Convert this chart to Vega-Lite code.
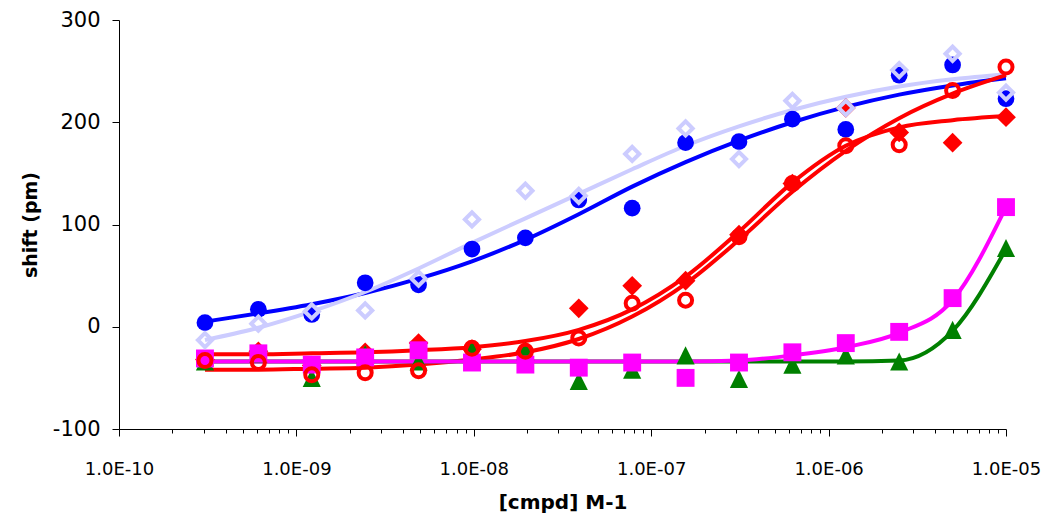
{
  "$schema": "https://vega.github.io/schema/vega-lite/v6.json",
  "width": 887,
  "height": 409,
  "autosize": {"type": "none"},
  "padding": {"left": 119, "top": 20, "right": 51, "bottom": 96},
  "background": "white",
  "config": {"view": {"stroke": null}, "font": "DejaVu Sans"},
  "data": {"values": [
    {"s":"s1","x":3.0517578125e-10,"obs":4,"fit":5},
    {"s":"s1","x":6.103515625e-10,"obs":17,"fit":13},
    {"s":"s1","x":1.220703125e-9,"obs":12,"fit":22},
    {"s":"s1","x":2.44140625e-9,"obs":43,"fit":33},
    {"s":"s1","x":4.8828125e-9,"obs":41,"fit":47},
    {"s":"s1","x":9.765625e-9,"obs":76,"fit":64},
    {"s":"s1","x":1.953125e-8,"obs":87,"fit":85},
    {"s":"s1","x":3.90625e-8,"obs":124,"fit":110},
    {"s":"s1","x":7.8125e-8,"obs":116,"fit":137},
    {"s":"s1","x":1.5625e-7,"obs":180,"fit":161},
    {"s":"s1","x":3.125e-7,"obs":181,"fit":182},
    {"s":"s1","x":6.25e-7,"obs":203,"fit":200},
    {"s":"s1","x":1.25e-6,"obs":193,"fit":215},
    {"s":"s1","x":2.5e-6,"obs":246,"fit":227},
    {"s":"s1","x":5e-6,"obs":256,"fit":236},
    {"s":"s1","x":1e-5,"obs":223,"fit":243},

    {"s":"s2","x":3.0517578125e-10,"obs":-13,"fit":-13},
    {"s":"s2","x":6.103515625e-10,"obs":3,"fit":-1},
    {"s":"s2","x":1.220703125e-9,"obs":15,"fit":15},
    {"s":"s2","x":2.44140625e-9,"obs":16,"fit":34},
    {"s":"s2","x":4.8828125e-9,"obs":47,"fit":57},
    {"s":"s2","x":9.765625e-9,"obs":105,"fit":82},
    {"s":"s2","x":1.953125e-8,"obs":133,"fit":106},
    {"s":"s2","x":3.90625e-8,"obs":128,"fit":130},
    {"s":"s2","x":7.8125e-8,"obs":169,"fit":154},
    {"s":"s2","x":1.5625e-7,"obs":194,"fit":177},
    {"s":"s2","x":3.125e-7,"obs":164,"fit":196},
    {"s":"s2","x":6.25e-7,"obs":221,"fit":212},
    {"s":"s2","x":1.25e-6,"obs":214,"fit":225},
    {"s":"s2","x":2.5e-6,"obs":251,"fit":235},
    {"s":"s2","x":5e-6,"obs":267,"fit":242},
    {"s":"s2","x":1e-5,"obs":229,"fit":247},

    {"s":"s3","x":3.0517578125e-10,"obs":-32,"fit":-27},
    {"s":"s3","x":6.103515625e-10,"obs":-24,"fit":-27},
    {"s":"s3","x":1.220703125e-9,"obs":-38,"fit":-26},
    {"s":"s3","x":2.44140625e-9,"obs":-25,"fit":-25},
    {"s":"s3","x":4.8828125e-9,"obs":-16,"fit":-23},
    {"s":"s3","x":9.765625e-9,"obs":-22,"fit":-20},
    {"s":"s3","x":1.953125e-8,"obs":-24,"fit":-14},
    {"s":"s3","x":3.90625e-8,"obs":18,"fit":-3},
    {"s":"s3","x":7.8125e-8,"obs":40,"fit":17},
    {"s":"s3","x":1.5625e-7,"obs":45,"fit":49},
    {"s":"s3","x":3.125e-7,"obs":90,"fit":93},
    {"s":"s3","x":6.25e-7,"obs":140,"fit":141},
    {"s":"s3","x":1.25e-6,"obs":214,"fit":177},
    {"s":"s3","x":2.5e-6,"obs":190,"fit":195},
    {"s":"s3","x":5e-6,"obs":180,"fit":202},
    {"s":"s3","x":1e-5,"obs":205,"fit":206},

    {"s":"s4","x":3.0517578125e-10,"obs":-33,"fit":-42},
    {"s":"s4","x":6.103515625e-10,"obs":-35,"fit":-42},
    {"s":"s4","x":1.220703125e-9,"obs":-47,"fit":-41},
    {"s":"s4","x":2.44140625e-9,"obs":-45,"fit":-40},
    {"s":"s4","x":4.8828125e-9,"obs":-43,"fit":-37},
    {"s":"s4","x":9.765625e-9,"obs":-21,"fit":-32},
    {"s":"s4","x":1.953125e-8,"obs":-24,"fit":-25},
    {"s":"s4","x":3.90625e-8,"obs":-11,"fit":-12},
    {"s":"s4","x":7.8125e-8,"obs":23,"fit":10},
    {"s":"s4","x":1.5625e-7,"obs":26,"fit":42},
    {"s":"s4","x":3.125e-7,"obs":88,"fit":85},
    {"s":"s4","x":6.25e-7,"obs":140,"fit":132},
    {"s":"s4","x":1.25e-6,"obs":177,"fit":172},
    {"s":"s4","x":2.5e-6,"obs":178,"fit":204},
    {"s":"s4","x":5e-6,"obs":231,"fit":228},
    {"s":"s4","x":1e-5,"obs":254,"fit":246},

    {"s":"s5","x":3.0517578125e-10,"obs":-34,"fit":-34},
    {"s":"s5","x":6.103515625e-10,"obs":-26,"fit":-34},
    {"s":"s5","x":1.220703125e-9,"obs":-50,"fit":-34},
    {"s":"s5","x":2.44140625e-9,"obs":-27,"fit":-34},
    {"s":"s5","x":4.8828125e-9,"obs":-34,"fit":-34},
    {"s":"s5","x":9.765625e-9,"obs":-23,"fit":-34},
    {"s":"s5","x":1.953125e-8,"obs":-24,"fit":-34},
    {"s":"s5","x":3.90625e-8,"obs":-53,"fit":-34},
    {"s":"s5","x":7.8125e-8,"obs":-42,"fit":-34},
    {"s":"s5","x":1.5625e-7,"obs":-28,"fit":-34},
    {"s":"s5","x":3.125e-7,"obs":-51,"fit":-34},
    {"s":"s5","x":6.25e-7,"obs":-37,"fit":-34},
    {"s":"s5","x":1.25e-6,"obs":-28,"fit":-34},
    {"s":"s5","x":2.5e-6,"obs":-34,"fit":-33},
    {"s":"s5","x":5e-6,"obs":-3,"fit":-4},
    {"s":"s5","x":1e-5,"obs":77,"fit":76},

    {"s":"s6","x":3.0517578125e-10,"obs":-31,"fit":-34},
    {"s":"s6","x":6.103515625e-10,"obs":-26,"fit":-34},
    {"s":"s6","x":1.220703125e-9,"obs":-37,"fit":-34},
    {"s":"s6","x":2.44140625e-9,"obs":-30,"fit":-34},
    {"s":"s6","x":4.8828125e-9,"obs":-23,"fit":-34},
    {"s":"s6","x":9.765625e-9,"obs":-35,"fit":-34},
    {"s":"s6","x":1.953125e-8,"obs":-37,"fit":-34},
    {"s":"s6","x":3.90625e-8,"obs":-40,"fit":-34},
    {"s":"s6","x":7.8125e-8,"obs":-35,"fit":-34},
    {"s":"s6","x":1.5625e-7,"obs":-50,"fit":-34},
    {"s":"s6","x":3.125e-7,"obs":-35,"fit":-33},
    {"s":"s6","x":6.25e-7,"obs":-25,"fit":-28},
    {"s":"s6","x":1.25e-6,"obs":-16,"fit":-20},
    {"s":"s6","x":2.5e-6,"obs":-5,"fit":-6},
    {"s":"s6","x":5e-6,"obs":28,"fit":26},
    {"s":"s6","x":1e-5,"obs":117,"fit":117}
  ]},
  "encoding": {
    "x": {
      "field": "x", "type": "quantitative",
      "scale": {"type": "log", "domain": [1e-10, 1e-5], "nice": false},
      "axis": {
        "title": "[cmpd] M-1",
        "titleFont": "DejaVu Sans", "titleFontSize": 20, "titleFontWeight": "bold", "titleColor": "#000000", "titlePadding": 14,
        "values": [1e-10,2e-10,3e-10,4e-10,5e-10,6e-10,7e-10,8e-10,9e-10,
                   1e-9,2e-9,3e-9,4e-9,5e-9,6e-9,7e-9,8e-9,9e-9,
                   1e-8,2e-8,3e-8,4e-8,5e-8,6e-8,7e-8,8e-8,9e-8,
                   1e-7,2e-7,3e-7,4e-7,5e-7,6e-7,7e-7,8e-7,9e-7,
                   1e-6,2e-6,3e-6,4e-6,5e-6,6e-6,7e-6,8e-6,9e-6,1e-5],
        "labelExpr": "abs(log(datum.value)/LN10 - round(log(datum.value)/LN10)) < 0.001 ? '1.0E-' + (round(-log(datum.value)/LN10) < 10 ? '0' : '') + round(-log(datum.value)/LN10) : ''",
        "labelFont": "DejaVu Sans", "labelFontSize": 18, "labelColor": "#000000",
        "labelPadding": 24, "labelFlush": false, "labelOverlap": false, "labelBound": false,
        "tickSize": {"condition": {"test": "abs(log(datum.value)/LN10 - round(log(datum.value)/LN10)) < 0.001", "value": 7}, "value": 4},
        "tickColor": "#000000", "tickWidth": 1, "domainColor": "#000000", "domainWidth": 1, "grid": false
      }
    }
  },
  "layer": [
    {
      "mark": {"type": "line", "interpolate": "monotone", "strokeWidth": 4},
      "encoding": {
        "y": {
          "field": "fit", "type": "quantitative",
          "scale": {"domain": [-100, 300], "nice": false},
          "axis": {
            "title": "shift (pm)", "titleFont": "DejaVu Sans", "titleFontSize": 19, "titleFontWeight": "bold", "titleColor": "#000000", "titlePadding": 12,
            "values": [-100, 0, 100, 200, 300],
            "labelExpr": "'' + datum.value",
            "labelFont": "DejaVu Sans", "labelFontSize": 21, "labelColor": "#000000", "labelPadding": 12,
            "tickSize": 7, "tickColor": "#000000", "domainColor": "#000000", "grid": false
          }
        },
        "color": {
          "field": "s", "type": "nominal", "legend": null,
          "scale": {"domain": ["s1","s2","s3","s4","s5","s6"], "range": ["#0000FF","#CCCCFF","#FF0000","#FF0000","#008000","#FF00FF"]}
        }
      }
    },
    {
      "transform": [{"filter": "datum.s === 's1'"}],
      "mark": {"type": "point", "shape": "circle", "filled": true, "size": 280, "color": "#0000FF", "opacity": 1},
      "encoding": {"y": {"field": "obs", "type": "quantitative", "title": "shift (pm)"}}
    },
    {
      "transform": [{"filter": "datum.s === 's3'"}],
      "mark": {"type": "point", "shape": "diamond", "filled": true, "size": 390, "color": "#FF0000", "opacity": 1},
      "encoding": {"y": {"field": "obs", "type": "quantitative", "title": "shift (pm)"}}
    },
    {
      "transform": [{"filter": "datum.s === 's5'"}],
      "mark": {"type": "point", "shape": "M-1,1L0,-1L1,1Z", "filled": true, "size": 330, "color": "#008000", "opacity": 1},
      "encoding": {"y": {"field": "obs", "type": "quantitative", "title": "shift (pm)"}}
    },
    {
      "transform": [{"filter": "datum.s === 's6'"}],
      "mark": {"type": "point", "shape": "square", "filled": true, "size": 320, "color": "#FF00FF", "opacity": 1},
      "encoding": {"y": {"field": "obs", "type": "quantitative", "title": "shift (pm)"}}
    },
    {
      "transform": [{"filter": "datum.s === 's2'"}],
      "mark": {"type": "point", "shape": "diamond", "filled": false, "size": 200, "strokeWidth": 4, "color": "#CCCCFF", "opacity": 1},
      "encoding": {"y": {"field": "obs", "type": "quantitative", "title": "shift (pm)"}}
    },
    {
      "transform": [{"filter": "datum.s === 's4'"}],
      "mark": {"type": "point", "shape": "circle", "filled": false, "size": 170, "strokeWidth": 4, "color": "#FF0000", "opacity": 1},
      "encoding": {"y": {"field": "obs", "type": "quantitative", "title": "shift (pm)"}}
    }
  ]
}
